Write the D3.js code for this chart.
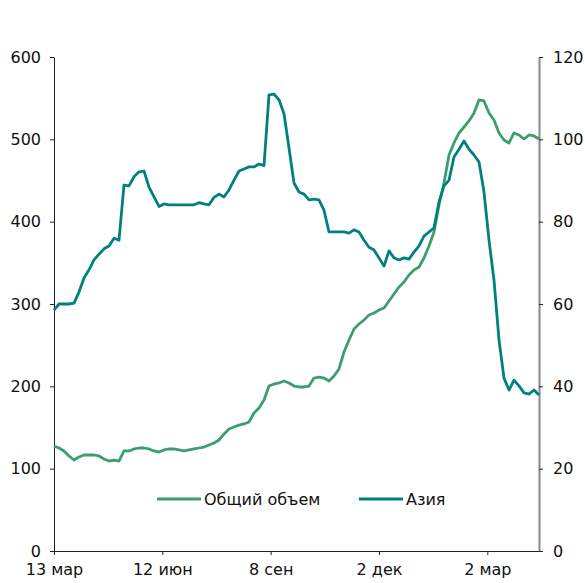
<!DOCTYPE html>
<html>
<head>
<meta charset="utf-8">
<script src="https://cdn.jsdelivr.net/npm/d3@7"></script>
<style>
  body { margin: 0; background: #fff; }
  svg { display: block; }
  text { font-family: "DejaVu Sans", Verdana, sans-serif; }
  .tick text { font-size: 16px; fill: #111; }
</style>
</head>
<body>
<svg id="chart"></svg>
<script>
// business-day index of each sample (every 3rd trading day)
var days = d3.range(0, 292, 3);

var total = [127.5, 125.1, 121.5, 115.4, 110.5, 114.2, 116.6, 116.6, 116.6, 115.4,
  111.7, 109.3, 110.5, 109.3, 121.5, 121.5, 123.9, 125.1, 125.1, 123.9,
  121.5, 120.2, 122.7, 123.9, 123.9, 122.7, 121.5, 122.7, 123.9, 125.1,
  126.3, 128.7, 131.2, 134.8, 142.1, 148.2, 150.6, 153.0, 154.3, 156.7,
  167.6, 173.7, 183.4, 200.4, 202.8, 204.1, 206.5, 204.1, 200.4, 199.2,
  199.2, 200.4, 210.1, 211.3, 210.1, 206.5, 212.6, 221.1, 241.7, 256.3,
  269.6, 275.7, 280.6, 286.6, 289.1, 292.7, 295.1, 303.7, 312.2, 320.6,
  326.7, 335.2, 341.3, 345.0, 355.9, 370.5, 387.5, 420.3, 447.0, 481.0,
  495.6, 507.7, 515.0, 522.3, 532.0, 547.8, 546.6, 532.0, 523.5, 507.7,
  499.2, 495.6, 507.7, 505.3, 500.4, 505.3, 504.1, 500.4];

var asia = [58.5, 60.0, 60.0, 60.0, 60.2, 62.9, 66.3, 68.3, 70.7, 72.1,
  73.4, 74.1, 76.0, 75.5, 88.9, 88.7, 90.9, 92.1, 92.3, 88.4,
  86.0, 83.7, 84.3, 84.1, 84.1, 84.1, 84.1, 84.1, 84.1, 84.6,
  84.3, 84.1, 85.9, 86.7, 86.0, 87.7, 90.1, 92.3, 92.8, 93.3,
  93.3, 94.0, 93.6, 110.8, 111.0, 109.6, 106.2, 97.9, 89.4, 87.2,
  86.7, 85.3, 85.5, 85.3, 82.8, 77.5, 77.5, 77.5, 77.5, 77.2,
  78.0, 77.5, 75.5, 73.8, 73.1, 71.2, 69.2, 72.9, 71.2, 70.7,
  71.2, 70.9, 72.6, 74.1, 76.5, 77.5, 78.5, 84.8, 88.7, 90.1,
  95.7, 97.6, 99.6, 97.6, 96.2, 94.5, 87.2, 75.5, 65.8, 51.3,
  42.0, 39.1, 41.5, 40.1, 38.4, 38.1, 39.1, 37.9];

var tickDays = [0, 65, 130, 195, 260];
var tickLabels = ["13 мар", "12 июн", "8 сен", "2 дек", "2 мар"];
var leftTicks = [0, 100, 200, 300, 400, 500, 600];
var rightTicks = [0, 20, 40, 60, 80, 100, 120];

var width = 585, height = 583;
var margin = {top: 57, right: 46, bottom: 32, left: 54};
var w = width - margin.left - margin.right,
    h = height - margin.top - margin.bottom;

var green = "#3b9f6c", teal = "#00807f";
var font = "DejaVu Sans, Verdana, sans-serif";

var svg = d3.select("#chart")
    .attr("width", width)
    .attr("height", height)
  .append("g")
    .attr("transform", "translate(" + margin.left + "," + margin.top + ")");

var x = d3.scaleLinear().domain([0, 291]).range([0, w]);
var yL = d3.scaleLinear().domain([0, 600]).range([h, 0]);
var yR = d3.scaleLinear().domain([0, 120]).range([h, 0]);

// axes
var gx = svg.append("g")
    .attr("transform", "translate(0," + h + ")")
    .call(d3.axisBottom(x).tickValues(tickDays)
      .tickFormat(function(d, i) { return tickLabels[i]; })
      .tickSize(4).tickSizeOuter(0).tickPadding(5))
    .attr("font-family", font).attr("font-size", 16);
gx.selectAll("line, path").attr("stroke", "#222");
gx.selectAll("text").attr("dy", "0.95em");

var gl = svg.append("g")
    .call(d3.axisLeft(yL).tickValues(leftTicks)
      .tickSize(4).tickSizeOuter(0).tickPadding(9))
    .attr("font-family", font).attr("font-size", 16);
gl.selectAll("line, path").attr("stroke", "#222");

var gr = svg.append("g")
    .attr("transform", "translate(" + w + ",0)")
    .call(d3.axisRight(yR).tickValues(rightTicks)
      .tickSize(4).tickSizeOuter(0).tickPadding(10))
    .attr("font-family", font).attr("font-size", 16);
gr.selectAll("path").attr("stroke", "#888").attr("stroke-width", 2);
gr.selectAll("line").attr("stroke", "#222");

// lines
var lineL = d3.line()
    .x(function(d, i) { return x(days[i]); })
    .y(function(d) { return yL(d); });
var lineR = d3.line()
    .x(function(d, i) { return x(days[i]); })
    .y(function(d) { return yR(d); });

svg.append("path")
    .datum(total)
    .attr("fill", "none")
    .attr("stroke", green)
    .attr("stroke-width", 2.8)
    .attr("stroke-linejoin", "round")
    .attr("d", lineL);

svg.append("path")
    .datum(asia)
    .attr("fill", "none")
    .attr("stroke", teal)
    .attr("stroke-width", 2.8)
    .attr("stroke-linejoin", "round")
    .attr("d", lineR);

// legend
var legend = [
  {name: "Общий объем", color: green, x: 103},
  {name: "Азия", color: teal, x: 305}
];
var lg = svg.append("g").attr("transform", "translate(0,442)");
lg.selectAll("line").data(legend).enter().append("line")
    .attr("x1", function(d) { return d.x; })
    .attr("x2", function(d) { return d.x + 44; })
    .attr("stroke", function(d) { return d.color; })
    .attr("stroke-width", 3);
lg.selectAll("text").data(legend).enter().append("text")
    .attr("x", function(d) { return d.x + 47; })
    .attr("dy", "0.35em")
    .attr("font-family", font)
    .attr("font-size", 16)
    .attr("fill", "#111")
    .text(function(d) { return d.name; });
</script>
</body>
</html>
